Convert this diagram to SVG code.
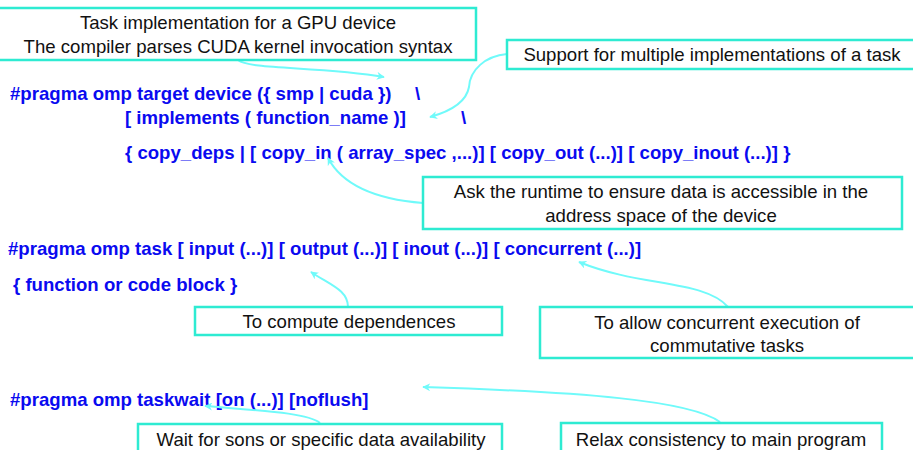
<svg xmlns="http://www.w3.org/2000/svg" width="913" height="450" viewBox="0 0 913 450">
<defs>
<style>
.box{fill:#ffffff;stroke:#2EEBD2;stroke-width:2.5}
.note{font-family:"Liberation Sans",Arial,sans-serif;font-size:18.6px;fill:#111111;text-anchor:middle}
.code{font-family:"Liberation Sans",Arial,sans-serif;font-size:18.6px;font-weight:bold;fill:#0A0AF0}
.conn{fill:none;stroke:#70FAFA;stroke-width:2}
</style>
<marker id="ah" viewBox="0 0 10 10" refX="9" refY="5" markerWidth="8" markerHeight="8" orient="auto" markerUnits="userSpaceOnUse">
<path d="M0,0 L10,5 L0,10 L3,5 Z" fill="#70FAFA"/>
</marker>
</defs>
<rect width="913" height="450" fill="#ffffff"/>
<g id="code">
<text class="code" x="10" y="100">#pragma omp target device ({ smp | cuda })</text>
<text class="code" x="415" y="100">\</text>
<text class="code" x="125" y="124">[ implements ( function_name )]</text>
<text class="code" x="461" y="124">\</text>
<text class="code" x="125" y="159">{ copy_deps | [ copy_in ( array_spec ,...)] [ copy_out (...)] [ copy_inout (...)] }</text>
<text class="code" x="8" y="255">#pragma omp task [ input (...)] [ output (...)] [ inout (...)] [ concurrent (...)]</text>
<text class="code" x="13" y="291">{ function or code block }</text>
<text class="code" x="10" y="406">#pragma omp taskwait [on (...)] [noflush]</text>
</g>
<g id="connectors">
<path class="conn" d="M238,60 C250,70 320,66 384,77" marker-end="url(#ah)"/>
<path class="conn" d="M507,54 C485,56 470,70 469,87 C466,104 448,112 430,117" marker-end="url(#ah)"/>
<path class="conn" d="M423,203 C385,200 345,190 328,158" marker-end="url(#ah)"/>
<path class="conn" d="M348,307 C348,290 330,285 311,272" marker-end="url(#ah)"/>
<path class="conn" d="M728,307 C705,280 640,287 579,262" marker-end="url(#ah)"/>
<path class="conn" d="M320,423 C308,413 265,411 205,406" marker-end="url(#ah)"/>
<path class="conn" d="M720,422 C690,400 580,392 423,387" marker-end="url(#ah)"/>
</g>
<g id="n1">
<rect class="box" x="-5" y="8" width="481" height="52"/>
<text class="note" x="238" y="29">Task implementation for a GPU device</text>
<text class="note" x="238" y="53">The compiler parses CUDA kernel invocation syntax</text>
</g>
<g id="n2">
<rect class="box" x="507" y="40" width="420" height="29"/>
<text class="note" x="712" y="61">Support for multiple implementations of a task</text>
</g>
<g id="n3">
<rect class="box" x="423" y="177" width="479" height="52"/>
<text class="note" x="661" y="198">Ask the runtime to ensure data is accessible in the</text>
<text class="note" x="661" y="222">address space of the device</text>
</g>
<g id="n4">
<rect class="box" x="195" y="307" width="307" height="28"/>
<text class="note" x="349" y="328">To compute dependences</text>
</g>
<g id="n5">
<rect class="box" x="540" y="307" width="390" height="51"/>
<text class="note" x="727" y="329">To allow concurrent execution of</text>
<text class="note" x="727" y="352">commutative tasks</text>
</g>
<g id="n6">
<rect class="box" x="138" y="424" width="364" height="40"/>
<text class="note" x="321" y="446">Wait for sons or specific data availability</text>
</g>
<g id="n7">
<rect class="box" x="561" y="423" width="321" height="40"/>
<text class="note" x="721" y="446">Relax consistency to main program</text>
</g>
</svg>
